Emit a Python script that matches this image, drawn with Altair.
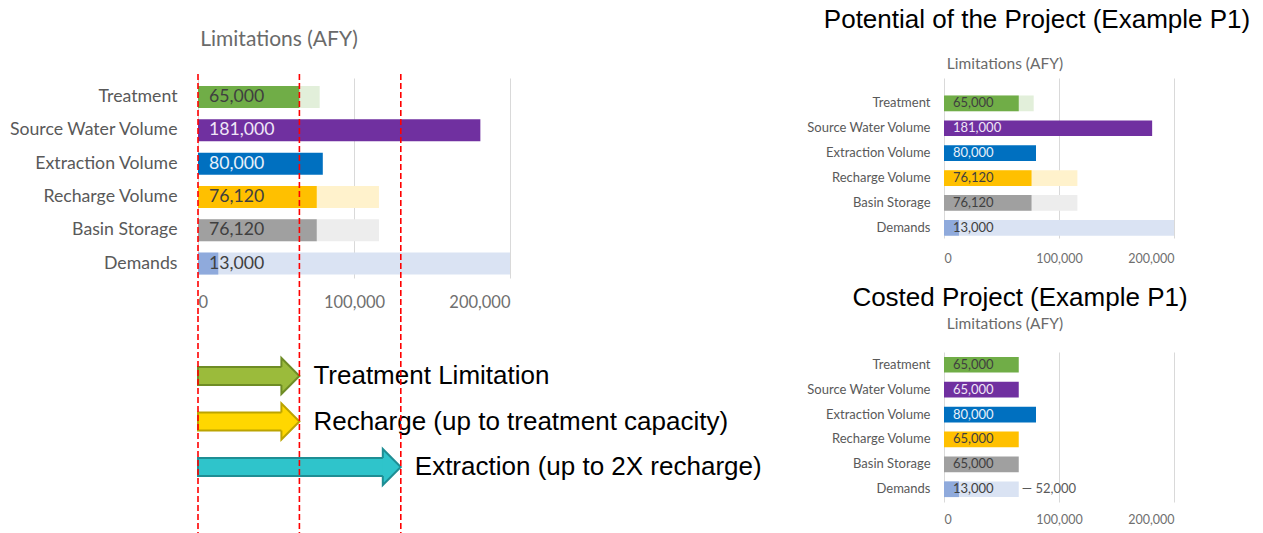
import altair as alt
import pandas as pd

# ---------------- data ----------------
categories = ["Treatment", "Source Water Volume", "Extraction Volume",
              "Recharge Volume", "Basin Storage", "Demands"]
potential_values = [65000, 181000, 80000, 76120, 76120, 13000]
potential_capacity = [78000, None, None, 116000, 116000, 200000]
costed_values = [65000, 65000, 80000, 65000, 65000, 13000]
costed_capacity = [None, None, None, None, None, 65000]
costed_gap_labels = ["", "", "", "", "", "\u2014 52,000"]
no_gap_labels = ["", "", "", "", "", ""]
limit_lines = [0, 65000, 130000]
arrow_labels = ["Treatment Limitation", "Recharge (up to treatment capacity)",
                "Extraction (up to 2X recharge)"]
arrow_ends = [65000, 65000, 130000]
x_ticks = [0, 100000, 200000]

# ---------------- styles ----------------
bar_colors = ["#70AD47", "#7030A0", "#0070C0", "#FFC000", "#A0A0A0", "#8FAADC"]
light_colors = ["#E2EFDA", "#E4D6EE", "#DDEBF7", "#FFF2CC", "#EDEDED", "#DAE3F3"]
text_colors = ["#3F3F3F", "#EFE6F7", "#E8F1FA", "#3F3F3F", "#3F3F3F", "#404040"]
arrow_fill = ["#9BBB3B", "#FFD700", "#2FC4CB"]
arrow_stroke = ["#6E8C25", "#BCA400", "#1F8E94"]
FONT = "Lato"
BIG_FONT = "Liberation Sans"
CAT_COLOR = "#595959"
TICK_COLOR = "#6F6F6F"
TITLE_GRAY = "#6A6A6A"
GRID = "#D9D9D9"
RED = "#FF0000"

XS = alt.Scale(domain=[0, 200000], nice=False, zero=True)


def bar_panel(values, caps, gaps, width, height, band, cat_fs, lab_fs,
              axis_fs, extent, lab_pad_y, lab_pad_x, lab_dx, title,
              rules=False):
    df = pd.DataFrame({"cat": categories, "value": values, "cap": caps,
                       "gap": gaps, "color": bar_colors, "light": light_colors,
                       "tcolor": text_colors})
    df["label"] = [f"{v:,}" for v in values]
    pi, po, al = band
    ys = alt.Scale(paddingInner=pi, paddingOuter=po, align=al)
    yaxis = alt.Axis(title=None, ticks=False, domain=False, labelFont=FONT,
                     labelFontSize=cat_fs, labelColor=CAT_COLOR,
                     labelPadding=lab_pad_y, minExtent=extent,
                     maxExtent=extent, labelLimit=400)
    xaxis = alt.Axis(title=None, values=x_ticks,
                     labelExpr="format(datum.value, ',')", grid=True,
                     gridColor=GRID, gridWidth=1, domain=False, ticks=False,
                     labelFont=FONT, labelFontSize=axis_fs,
                     labelColor=TICK_COLOR, labelPadding=lab_pad_x)
    y = alt.Y("cat:N", sort=categories, scale=ys, axis=yaxis)
    base = alt.Chart(df)
    bg = base.transform_filter("isValid(datum.cap)").mark_bar().encode(
        y=y, x=alt.X("cap:Q", scale=XS, axis=xaxis),
        color=alt.Color("light:N", scale=None))
    fg = base.mark_bar().encode(
        y=y, x=alt.X("value:Q", scale=XS, axis=xaxis),
        color=alt.Color("color:N", scale=None))
    txt = base.transform_calculate(zero="0").mark_text(
        align="left", baseline="middle", font=FONT, fontSize=lab_fs,
        dx=lab_dx).encode(
        y=y, x=alt.X("zero:Q", scale=XS, axis=xaxis),
        color=alt.Color("tcolor:N", scale=None), text="label:N")
    gap = base.transform_filter("datum.gap != ''").mark_text(
        align="left", baseline="middle", font=FONT, fontSize=lab_fs,
        dx=3, color="#595959").encode(
        y=y, x=alt.X("cap:Q", scale=XS, axis=xaxis), text="gap:N")
    layers = [bg, fg, txt, gap]
    if rules:
        rdf = pd.DataFrame({"limit": limit_lines})
        layers.append(alt.Chart(rdf).mark_rule(
            color=RED, strokeDash=[6, 3], strokeWidth=1.6).encode(
            x=alt.X("limit:Q", scale=XS, axis=xaxis),
            y=alt.value(-4), y2=alt.value(height + 36)))
    return alt.layer(*layers).properties(width=width, height=height,
                                         title=title)


# ---------------- left panel ----------------
left_title = alt.TitleParams("Limitations (AFY)", font=FONT, fontSize=21,
                             fontWeight="normal", color=TITLE_GRAY,
                             anchor="middle", frame="group", dx=-75,
                             offset=23)
left_bars = bar_panel(potential_values, potential_capacity, no_gap_labels,
                      312, 200, (0.34, 0.173, 0.7), 17.7, 17.7, 16.5, 188,
                      21, 16, 11, left_title, rules=True)

adf = pd.DataFrame({"label": arrow_labels, "end": arrow_ends,
                    "fill": arrow_fill, "stroke": arrow_stroke})
ay = alt.Y("label:N", sort=arrow_labels,
           scale=alt.Scale(type="band", paddingInner=0, paddingOuter=0.93,
                           align=0.441), axis=None)
body = alt.Chart(adf).transform_calculate(start="0").mark_bar(
    size=18, x2Offset=-16, strokeWidth=2).encode(
    y=ay, x=alt.X("start:Q", scale=XS, axis=None), x2="end:Q",
    color=alt.Color("fill:N", scale=None),
    stroke=alt.Stroke("stroke:N", scale=None))
head = alt.Chart(adf).mark_point(
    shape="M0,-0.5L0,-1L1,0L0,1L0,0.5", filled=True, size=1296,
    strokeWidth=2, xOffset=-18, opacity=1, strokeOpacity=1).encode(
    y=ay, x=alt.X("end:Q", scale=XS, axis=None),
    color=alt.Color("fill:N", scale=None),
    stroke=alt.Stroke("stroke:N", scale=None))
atext = alt.Chart(adf).mark_text(
    align="left", baseline="middle", font=BIG_FONT, fontSize=26, dx=14,
    color="black").encode(
    y=ay, x=alt.X("end:Q", scale=XS, axis=None), text="label:N")
arules = alt.Chart(pd.DataFrame({"limit": limit_lines})).mark_rule(
    color=RED, strokeDash=[6, 3], strokeWidth=1.6).encode(
    x=alt.X("limit:Q", scale=XS, axis=None))
arrows = alt.layer(body, head, atext, arules).properties(width=312,
                                                        height=221)

left_col = alt.vconcat(left_bars, arrows, spacing=0).resolve_scale(
    x="independent", y="independent")


# ---------------- right panels ----------------
def small_title(offset):
    return alt.TitleParams("Limitations (AFY)", font=FONT, fontSize=15.5,
                           fontWeight="normal", color=TITLE_GRAY,
                           anchor="middle", frame="group", dx=-54,
                           offset=offset)


chart_a = bar_panel(potential_values, potential_capacity, no_gap_labels,
                    230, 160, (0.37, 0.398, 0.884), 13, 13, 12.5, 139,
                    14, 14, 9, small_title(6))
chart_b = bar_panel(costed_values, costed_capacity, costed_gap_labels,
                    230, 150, (0.37, 0.197, 0.5), 13, 13, 12.5, 139,
                    14, 11.5, 9, small_title(20))

costed_block = alt.vconcat(chart_b, title=alt.TitleParams(
    "Costed Project (Example P1)", font=BIG_FONT, fontSize=26,
    fontWeight="normal", color="black", anchor="middle", frame="group",
    dx=76, offset=6))

right_col = alt.vconcat(chart_a, costed_block, spacing=19, title=alt.TitleParams(
    "Potential of the Project (Example P1)", font=BIG_FONT, fontSize=26,
    fontWeight="normal", color="black", anchor="middle", frame="group",
    dx=93, offset=24)).resolve_scale(x="independent", y="independent")

chart = alt.hconcat(left_col, right_col, spacing=43).resolve_scale(
    x="independent", y="independent").configure_view(stroke=None).properties(
    padding={"left": 8, "top": 6, "right": 0, "bottom": 0})

chart.save("out.html", embed_options={"renderer": "svg", "actions": False})
